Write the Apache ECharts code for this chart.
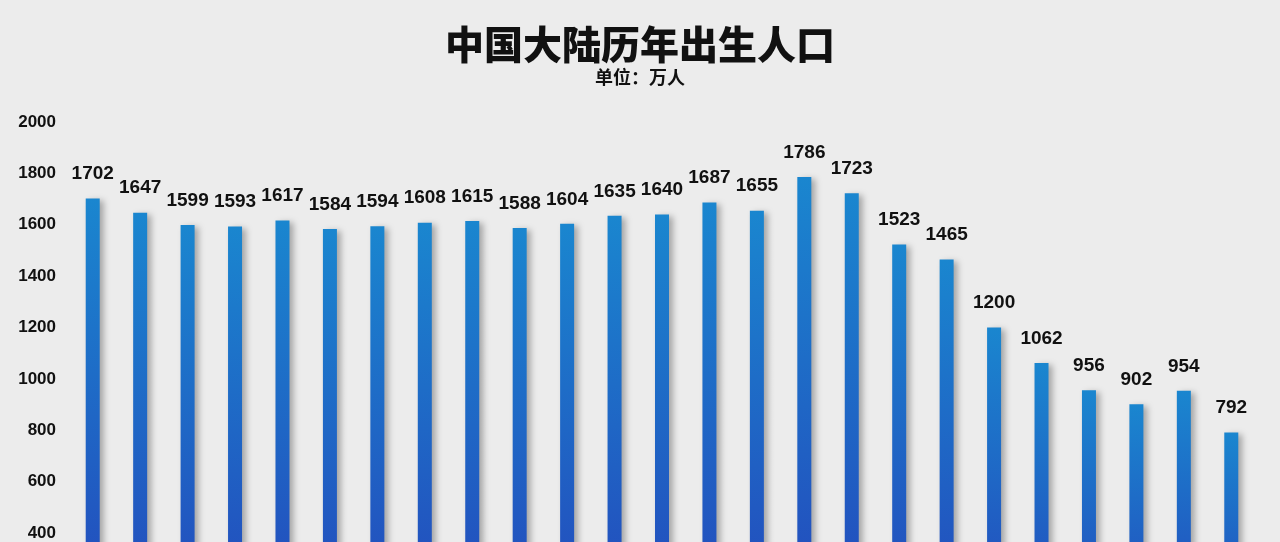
<!DOCTYPE html>
<html>
<head>
<meta charset="utf-8">
<script src="https://cdn.jsdelivr.net/npm/echarts@6/dist/echarts.min.js"></script>
<style>
html,body{margin:0;padding:0;background:#ececec;overflow:hidden;width:1280px;height:542px;}
#c{width:1280px;height:660px;}
</style>
</head>
<body>
<div id="c"></div>
<script>
var years = ['2001','2002','2003','2004','2005','2006','2007','2008','2009','2010','2011','2012','2013','2014','2015','2016','2017','2018','2019','2020','2021','2022','2023','2024','2025'];
var births = [1702,1647,1599,1593,1617,1584,1594,1608,1615,1588,1604,1635,1640,1687,1655,1786,1723,1523,1465,1200,1062,956,902,954,792];
var yTicks = [0,200,400,600,800,1000,1200,1400,1600,1800,2000];
var titleText = '中国大陆历年出生人口';
var subText = '单位：万人';

var chart = echarts.init(document.getElementById('c'));
chart.setOption({
  backgroundColor: '#ececec',
  animation: false,
  title: {
    text: titleText,
    subtext: subText,
    left: 'center',
    top: 20,
    itemGap: 4,
    textStyle: {fontFamily: 'Noto Sans CJK SC', fontWeight: 900, fontSize: 39, color: '#111'},
    subtextStyle: {fontFamily: 'Noto Sans CJK SC', fontWeight: 'bold', fontSize: 18, color: '#111'}
  },
  grid: {left: 69, right: 25, top: 122, height: 514, containLabel: false},
  xAxis: {
    type: 'category',
    data: years,
    axisLine: {show: false},
    axisTick: {show: false},
    axisLabel: {show: false}
  },
  yAxis: {
    type: 'value',
    min: yTicks[0],
    max: yTicks[yTicks.length - 1],
    interval: 200,
    splitLine: {show: false},
    axisLine: {show: false},
    axisTick: {show: false},
    axisLabel: {
      margin: 13,
      formatter: function (v) { return String(v); },
      fontFamily: 'Liberation Sans',
      fontWeight: 'bold',
      fontSize: 17,
      color: '#111'
    }
  },
  series: [{
    type: 'bar',
    data: births,
    barWidth: 14,
    itemStyle: {
      color: new echarts.graphic.LinearGradient(0, 0, 0, 1, [
        {offset: 0, color: '#1a86cf'},
        {offset: 1, color: '#2446bb'}
      ]),
      shadowColor: 'rgba(0,0,0,0.3)',
      shadowBlur: 6,
      shadowOffsetX: 4,
      shadowOffsetY: 2
    },
    label: {
      show: true,
      position: 'top',
      distance: 15,
      fontFamily: 'Liberation Sans',
      fontWeight: 'bold',
      fontSize: 19,
      color: '#111'
    }
  }]
});
</script>
</body>
</html>
